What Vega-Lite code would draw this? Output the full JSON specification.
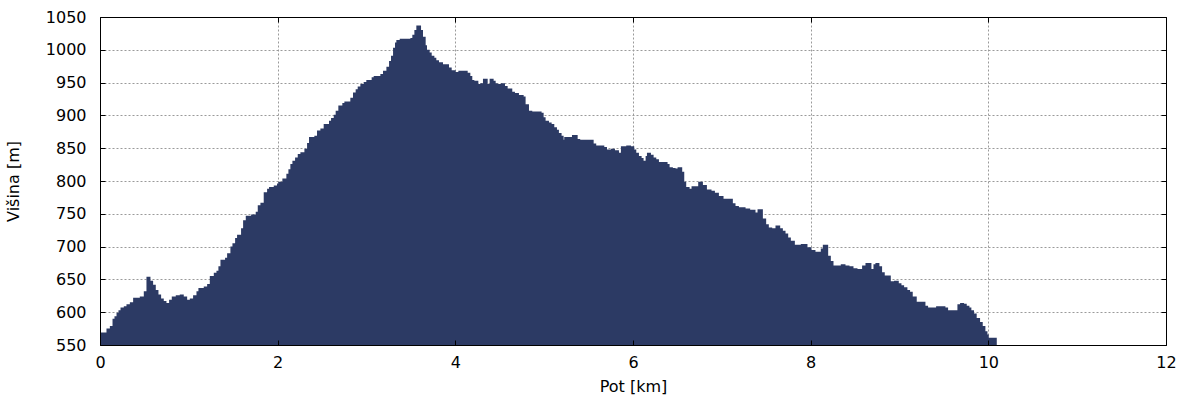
{
  "$schema": "https://vega.github.io/schema/vega-lite/v6.json",
  "width": 1066,
  "height": 328,
  "autosize": "none",
  "padding": {"left": 100, "top": 17, "right": 34, "bottom": 55},
  "background": "white",
  "config": {"view": {"stroke": null}, "font": "DejaVu Sans"},
  "data": {"values": [
    {"pot": 0, "visina": 562}, {"pot": 0.01, "visina": 569}, {"pot": 0.073, "visina": 575}, {"pot": 0.111, "visina": 579},
    {"pot": 0.141, "visina": 590}, {"pot": 0.163, "visina": 594}, {"pot": 0.186, "visina": 599}, {"pot": 0.208, "visina": 603},
    {"pot": 0.231, "visina": 607}, {"pot": 0.268, "visina": 609}, {"pot": 0.298, "visina": 612}, {"pot": 0.336, "visina": 615},
    {"pot": 0.373, "visina": 622}, {"pot": 0.448, "visina": 624}, {"pot": 0.493, "visina": 632}, {"pot": 0.523, "visina": 654},
    {"pot": 0.568, "visina": 648}, {"pot": 0.598, "visina": 642}, {"pot": 0.628, "visina": 634}, {"pot": 0.658, "visina": 627},
    {"pot": 0.688, "visina": 621}, {"pot": 0.718, "visina": 617}, {"pot": 0.748, "visina": 614}, {"pot": 0.778, "visina": 619},
    {"pot": 0.808, "visina": 624}, {"pot": 0.853, "visina": 626}, {"pot": 0.898, "visina": 627}, {"pot": 0.943, "visina": 624},
    {"pot": 0.981, "visina": 619}, {"pot": 1.011, "visina": 621}, {"pot": 1.048, "visina": 626}, {"pot": 1.086, "visina": 632},
    {"pot": 1.108, "visina": 637}, {"pot": 1.168, "visina": 639}, {"pot": 1.206, "visina": 643}, {"pot": 1.236, "visina": 655},
    {"pot": 1.281, "visina": 660}, {"pot": 1.311, "visina": 663}, {"pot": 1.333, "visina": 670}, {"pot": 1.356, "visina": 680},
    {"pot": 1.408, "visina": 683}, {"pot": 1.431, "visina": 690}, {"pot": 1.468, "visina": 700}, {"pot": 1.491, "visina": 705},
    {"pot": 1.521, "visina": 713}, {"pot": 1.543, "visina": 718}, {"pot": 1.588, "visina": 728}, {"pot": 1.611, "visina": 740},
    {"pot": 1.641, "visina": 747}, {"pot": 1.701, "visina": 749}, {"pot": 1.753, "visina": 753}, {"pot": 1.776, "visina": 763},
    {"pot": 1.806, "visina": 767}, {"pot": 1.843, "visina": 783}, {"pot": 1.881, "visina": 788}, {"pot": 1.903, "visina": 791},
    {"pot": 1.956, "visina": 793}, {"pot": 1.993, "visina": 796}, {"pot": 2.008, "visina": 799}, {"pot": 2.053, "visina": 804},
    {"pot": 2.098, "visina": 811}, {"pot": 2.121, "visina": 818}, {"pot": 2.143, "visina": 826}, {"pot": 2.166, "visina": 831},
    {"pot": 2.196, "visina": 836}, {"pot": 2.226, "visina": 841}, {"pot": 2.256, "visina": 844}, {"pot": 2.301, "visina": 849},
    {"pot": 2.331, "visina": 858}, {"pot": 2.353, "visina": 867}, {"pot": 2.413, "visina": 869}, {"pot": 2.443, "visina": 877},
    {"pot": 2.481, "visina": 880}, {"pot": 2.518, "visina": 887}, {"pot": 2.578, "visina": 892}, {"pot": 2.601, "visina": 896},
    {"pot": 2.631, "visina": 901}, {"pot": 2.653, "visina": 907}, {"pot": 2.683, "visina": 915}, {"pot": 2.728, "visina": 919},
    {"pot": 2.751, "visina": 921}, {"pot": 2.818, "visina": 927}, {"pot": 2.848, "visina": 935}, {"pot": 2.878, "visina": 940},
    {"pot": 2.901, "visina": 944}, {"pot": 2.931, "visina": 948}, {"pot": 2.968, "visina": 951}, {"pot": 2.998, "visina": 954},
    {"pot": 3.058, "visina": 958}, {"pot": 3.081, "visina": 960}, {"pot": 3.156, "visina": 963}, {"pot": 3.186, "visina": 968},
    {"pot": 3.224, "visina": 974}, {"pot": 3.254, "visina": 983}, {"pot": 3.276, "visina": 991}, {"pot": 3.299, "visina": 1003},
    {"pot": 3.321, "visina": 1011}, {"pot": 3.336, "visina": 1015}, {"pot": 3.374, "visina": 1017}, {"pot": 3.494, "visina": 1018},
    {"pot": 3.516, "visina": 1023}, {"pot": 3.539, "visina": 1030}, {"pot": 3.561, "visina": 1037}, {"pot": 3.614, "visina": 1030},
    {"pot": 3.636, "visina": 1020}, {"pot": 3.666, "visina": 1007}, {"pot": 3.681, "visina": 1000}, {"pot": 3.711, "visina": 996},
    {"pot": 3.734, "visina": 991}, {"pot": 3.764, "visina": 988}, {"pot": 3.786, "visina": 984}, {"pot": 3.816, "visina": 981},
    {"pot": 3.861, "visina": 978}, {"pot": 3.929, "visina": 973}, {"pot": 3.959, "visina": 969}, {"pot": 4.004, "visina": 966},
    {"pot": 4.034, "visina": 968}, {"pot": 4.139, "visina": 965}, {"pot": 4.169, "visina": 960}, {"pot": 4.191, "visina": 954},
    {"pot": 4.214, "visina": 953}, {"pot": 4.259, "visina": 948}, {"pot": 4.281, "visina": 949}, {"pot": 4.311, "visina": 956},
    {"pot": 4.364, "visina": 948}, {"pot": 4.386, "visina": 956}, {"pot": 4.431, "visina": 953}, {"pot": 4.454, "visina": 949},
    {"pot": 4.476, "visina": 948}, {"pot": 4.514, "visina": 949}, {"pot": 4.559, "visina": 945}, {"pot": 4.589, "visina": 941},
    {"pot": 4.641, "visina": 936}, {"pot": 4.671, "visina": 934}, {"pot": 4.716, "visina": 931}, {"pot": 4.769, "visina": 929},
    {"pot": 4.791, "visina": 917}, {"pot": 4.829, "visina": 907}, {"pot": 4.866, "visina": 906}, {"pot": 4.971, "visina": 904},
    {"pot": 4.994, "visina": 897}, {"pot": 5.016, "visina": 892}, {"pot": 5.054, "visina": 889}, {"pot": 5.084, "visina": 887},
    {"pot": 5.114, "visina": 882}, {"pot": 5.144, "visina": 878}, {"pot": 5.166, "visina": 873}, {"pot": 5.196, "visina": 869},
    {"pot": 5.219, "visina": 863}, {"pot": 5.226, "visina": 867}, {"pot": 5.313, "visina": 870}, {"pot": 5.377, "visina": 864},
    {"pot": 5.406, "visina": 863}, {"pot": 5.557, "visina": 857}, {"pot": 5.586, "visina": 854}, {"pot": 5.677, "visina": 852},
    {"pot": 5.707, "visina": 848}, {"pot": 5.752, "visina": 849}, {"pot": 5.797, "visina": 847}, {"pot": 5.842, "visina": 843},
    {"pot": 5.864, "visina": 853}, {"pot": 5.924, "visina": 854}, {"pot": 5.977, "visina": 853}, {"pot": 6.014, "visina": 848},
    {"pot": 6.037, "visina": 843}, {"pot": 6.067, "visina": 838}, {"pot": 6.097, "visina": 835}, {"pot": 6.119, "visina": 831},
    {"pot": 6.142, "visina": 838}, {"pot": 6.157, "visina": 843}, {"pot": 6.202, "visina": 840}, {"pot": 6.232, "visina": 836},
    {"pot": 6.262, "visina": 833}, {"pot": 6.292, "visina": 829}, {"pot": 6.389, "visina": 826}, {"pot": 6.412, "visina": 821},
    {"pot": 6.449, "visina": 820}, {"pot": 6.479, "visina": 819}, {"pot": 6.502, "visina": 821}, {"pot": 6.554, "visina": 814},
    {"pot": 6.577, "visina": 799}, {"pot": 6.599, "visina": 791}, {"pot": 6.637, "visina": 788}, {"pot": 6.659, "visina": 792},
    {"pot": 6.734, "visina": 799}, {"pot": 6.787, "visina": 794}, {"pot": 6.832, "visina": 787}, {"pot": 6.884, "visina": 785},
    {"pot": 6.922, "visina": 782}, {"pot": 6.967, "visina": 777}, {"pot": 7.019, "visina": 773}, {"pot": 7.124, "visina": 766},
    {"pot": 7.154, "visina": 762}, {"pot": 7.192, "visina": 760}, {"pot": 7.267, "visina": 758}, {"pot": 7.319, "visina": 756},
    {"pot": 7.379, "visina": 752}, {"pot": 7.402, "visina": 757}, {"pot": 7.462, "visina": 743}, {"pot": 7.499, "visina": 734},
    {"pot": 7.529, "visina": 729}, {"pot": 7.567, "visina": 728}, {"pot": 7.604, "visina": 732}, {"pot": 7.657, "visina": 728},
    {"pot": 7.687, "visina": 724}, {"pot": 7.717, "visina": 720}, {"pot": 7.747, "visina": 714}, {"pot": 7.777, "visina": 709},
    {"pot": 7.822, "visina": 703}, {"pot": 7.889, "visina": 704}, {"pot": 7.964, "visina": 699}, {"pot": 8.009, "visina": 695},
    {"pot": 8.054, "visina": 692}, {"pot": 8.114, "visina": 697}, {"pot": 8.137, "visina": 703}, {"pot": 8.197, "visina": 686},
    {"pot": 8.227, "visina": 678}, {"pot": 8.257, "visina": 671}, {"pot": 8.339, "visina": 673}, {"pot": 8.392, "visina": 671},
    {"pot": 8.437, "visina": 670}, {"pot": 8.482, "visina": 667}, {"pot": 8.527, "visina": 666}, {"pot": 8.579, "visina": 671},
    {"pot": 8.617, "visina": 675}, {"pot": 8.684, "visina": 666}, {"pot": 8.707, "visina": 673}, {"pot": 8.729, "visina": 675},
    {"pot": 8.774, "visina": 670}, {"pot": 8.804, "visina": 661}, {"pot": 8.834, "visina": 656}, {"pot": 8.902, "visina": 647},
    {"pot": 8.939, "visina": 648}, {"pot": 8.992, "visina": 644}, {"pot": 9.022, "visina": 641}, {"pot": 9.052, "visina": 638},
    {"pot": 9.089, "visina": 634}, {"pot": 9.119, "visina": 631}, {"pot": 9.149, "visina": 624}, {"pot": 9.194, "visina": 616},
    {"pot": 9.292, "visina": 610}, {"pot": 9.322, "visina": 607}, {"pot": 9.412, "visina": 609}, {"pot": 9.517, "visina": 607},
    {"pot": 9.547, "visina": 603}, {"pot": 9.652, "visina": 612}, {"pot": 9.682, "visina": 614}, {"pot": 9.727, "visina": 613},
    {"pot": 9.757, "visina": 610}, {"pot": 9.787, "visina": 607}, {"pot": 9.809, "visina": 603}, {"pot": 9.839, "visina": 598},
    {"pot": 9.869, "visina": 591}, {"pot": 9.907, "visina": 585}, {"pot": 9.937, "visina": 579}, {"pot": 9.967, "visina": 571},
    {"pot": 9.99, "visina": 566}, {"pot": 10.005, "visina": 561}, {"pot": 10.095, "visina": 561}
  ]},
  "encoding": {
    "x": {"field": "pot", "type": "quantitative", "scale": {"domain": [0, 12], "nice": false, "zero": false}},
    "y": {"field": "visina", "type": "quantitative", "scale": {"domain": [550, 1050], "nice": false, "zero": false}}
  },
  "layer": [
    {
      "mark": {"type": "area", "interpolate": "step-after", "color": "#2c3a64", "clip": true},
      "encoding": {
        "x": {"field": "pot", "type": "quantitative", "axis": {"orient": "bottom", "values": [0, 2, 4, 6, 8, 10, 12], "grid": true, "gridColor": "#9a9a9a", "gridDash": [2, 2], "gridWidth": 1, "domain": false, "ticks": false, "labels": false, "title": null, "zindex": 0}},
        "y": {"field": "visina", "type": "quantitative", "axis": {"orient": "left", "values": [550, 600, 650, 700, 750, 800, 850, 900, 950, 1000, 1050], "grid": true, "gridColor": "#9a9a9a", "gridDash": [2, 2], "gridWidth": 1, "domain": false, "ticks": false, "labels": false, "title": null, "zindex": 0}}
      }
    },
    {
      "mark": {"type": "area", "interpolate": "step-after", "opacity": 0, "clip": true},
      "encoding": {
        "x": {"field": "pot", "type": "quantitative", "axis": {"orient": "bottom", "values": [0, 2, 4, 6, 8, 10, 12], "format": "d", "grid": false, "domain": true, "domainColor": "black", "domainWidth": 1, "ticks": true, "tickColor": "black", "tickSize": -5, "labelPadding": 14, "labelFontSize": 16, "labelColor": "black", "labelFont": "DejaVu Sans", "labelFlush": false, "title": "Pot [km]", "titleFont": "DejaVu Sans", "titleFontSize": 16, "titleFontWeight": "normal", "titleColor": "black", "titlePadding": 8, "zindex": 1}},
        "y": {"field": "visina", "type": "quantitative", "axis": {"orient": "left", "values": [550, 600, 650, 700, 750, 800, 850, 900, 950, 1000, 1050], "format": "d", "grid": false, "domain": true, "domainColor": "black", "domainWidth": 1, "ticks": true, "tickColor": "black", "tickSize": -5, "labelPadding": 19, "labelFontSize": 16, "labelColor": "black", "labelFont": "DejaVu Sans", "labelFlush": false, "title": "Višina [m]", "titleFont": "DejaVu Sans", "titleFontSize": 16, "titleFontWeight": "normal", "titleColor": "black", "titlePadding": 24, "zindex": 1}}
      }
    },
    {
      "mark": {"type": "area", "interpolate": "step-after", "opacity": 0, "clip": true},
      "encoding": {
        "x": {"field": "pot", "type": "quantitative", "axis": {"orient": "top", "values": [0, 2, 4, 6, 8, 10, 12], "grid": false, "domain": true, "domainColor": "black", "domainWidth": 1, "ticks": true, "tickColor": "black", "tickSize": -5, "labels": false, "title": null, "zindex": 1}},
        "y": {"field": "visina", "type": "quantitative", "axis": {"orient": "right", "values": [550, 600, 650, 700, 750, 800, 850, 900, 950, 1000, 1050], "grid": false, "domain": true, "domainColor": "black", "domainWidth": 1, "ticks": true, "tickColor": "black", "tickSize": -5, "labels": false, "title": null, "zindex": 1}}
      }
    }
  ],
  "resolve": {"axis": {"x": "independent", "y": "independent"}}
}
